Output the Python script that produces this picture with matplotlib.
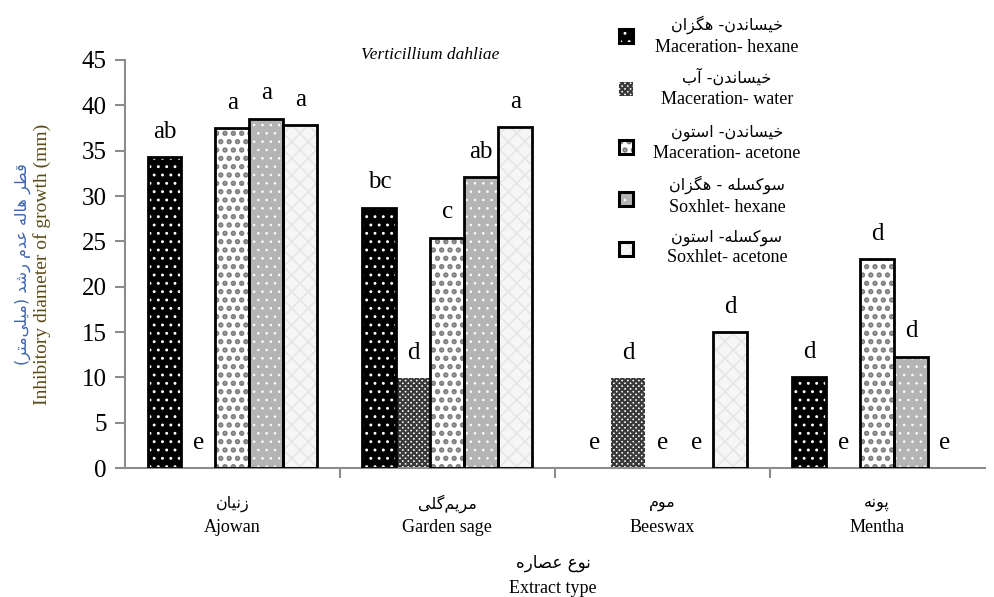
import numpy as np
import matplotlib
matplotlib.use('Agg')
import matplotlib.pyplot as plt
from matplotlib.patches import Rectangle

# ---- data ----
cat_fa = ['زنیان', 'مریم‌گلی', 'موم', 'پونه']
cat_en = ['Ajowan', 'Garden sage', 'Beeswax', 'Mentha']

series_fa = ['خیساندن- هگزان', 'خیساندن- آب', 'خیساندن- استون',
             'سوکسله - هگزان', 'سوکسله- استون']
series_en = ['Maceration- hexane', 'Maceration- water', 'Maceration- acetone',
             'Soxhlet- hexane', 'Soxhlet- acetone']

mac_hexane = [34.3, 28.7, 0, 10.0]
mac_water = [0, 9.9, 9.9, 0]
mac_acetone = [37.5, 25.4, 0, 23.0]
sox_hexane = [38.5, 32.1, 0, 12.3]
sox_acetone = [37.8, 37.6, 15.0, 0]

letters = [
    ['ab', 'bc', 'e', 'd'],
    ['e', 'd', 'd', 'e'],
    ['a', 'c', 'e', 'd'],
    ['a', 'ab', 'e', 'd'],
    ['a', 'a', 'd', 'e'],
]

title = 'Verticillium dahliae'
ylabel_fa = 'قطر هاله عدم رشد (میلی‌متر)'
ylabel_en = 'Inhibitory diameter of growth (mm)'
xlabel_fa = 'نوع عصاره'
xlabel_en = 'Extract type'
yticks = [0, 5, 10, 15, 20, 25, 30, 35, 40, 45]

# ---- tiny Persian shaper (matplotlib has no bidi / joining) ----
AR_FORMS = {
    '\u0627': ('\uFE8D', '\uFE8E', None, None),        # alef
    '\u0622': ('\uFE81', '\uFE82', None, None),        # alef madda
    '\u0628': ('\uFE8F', '\uFE90', '\uFE91', '\uFE92'),  # beh
    '\u067E': ('\uFB56', '\uFB57', '\uFB58', '\uFB59'),  # peh
    '\u062A': ('\uFE95', '\uFE96', '\uFE97', '\uFE98'),  # teh
    '\u062E': ('\uFEA5', '\uFEA6', '\uFEA7', '\uFEA8'),  # khah
    '\u062F': ('\uFEA9', '\uFEAA', None, None),        # dal
    '\u0631': ('\uFEAD', '\uFEAE', None, None),        # reh
    '\u0632': ('\uFEAF', '\uFEB0', None, None),        # zain
    '\u0633': ('\uFEB1', '\uFEB2', '\uFEB3', '\uFEB4'),  # seen
    '\u0634': ('\uFEB5', '\uFEB6', '\uFEB7', '\uFEB8'),  # sheen
    '\u0635': ('\uFEB9', '\uFEBA', '\uFEBB', '\uFEBC'),  # sad
    '\u0637': ('\uFEC1', '\uFEC2', '\uFEC3', '\uFEC4'),  # tah
    '\u0639': ('\uFEC9', '\uFECA', '\uFECB', '\uFECC'),  # ain
    '\u0642': ('\uFED5', '\uFED6', '\uFED7', '\uFED8'),  # qaf
    '\u06A9': ('\uFB8E', '\uFB8F', '\uFB90', '\uFB91'),  # keheh
    '\u06AF': ('\uFB92', '\uFB93', '\uFB94', '\uFB95'),  # gaf
    '\u0644': ('\uFEDD', '\uFEDE', '\uFEDF', '\uFEE0'),  # lam
    '\u0645': ('\uFEE1', '\uFEE2', '\uFEE3', '\uFEE4'),  # meem
    '\u0646': ('\uFEE5', '\uFEE6', '\uFEE7', '\uFEE8'),  # noon
    '\u0648': ('\uFEED', '\uFEEE', None, None),        # waw
    '\u0647': ('\uFEE9', '\uFEEA', '\uFEEB', '\uFEEC'),  # heh
    '\u06CC': ('\uFBFC', '\uFBFD', '\uFBFE', '\uFBFF'),  # farsi yeh
}


def fa(s):
    s = s.replace('\u064A', '\u06CC').replace('\u0649', '\u06CC').replace('\u0643', '\u06A9')
    out = []
    for i, ch in enumerate(s):
        if ch not in AR_FORMS:
            if ch != '\u200c':
                out.append(ch)
            continue
        iso, fin, ini, med = AR_FORMS[ch]
        prev = s[i - 1] if i > 0 else ''
        nxt = s[i + 1] if i + 1 < len(s) else ''
        jp = prev in AR_FORMS and AR_FORMS[prev][2] is not None
        jn = ini is not None and nxt in AR_FORMS
        if jp and jn:
            out.append(med)
        elif jp:
            out.append(fin)
        elif jn:
            out.append(ini)
        else:
            out.append(iso)
    vis = ''.join(reversed(out))
    return vis.translate(str.maketrans('()', ')('))


SERIF = ['Liberation Serif', 'DejaVu Sans']
FAF = ['DejaVu Sans']

plt.rcParams['font.family'] = SERIF

face = ['black', 'white', 'white', '#b4b4b4', '#f6f6f6']
hatches = ['..', 'xxxxxx', '..', '..', 'xx']
hatch_col = ['white', '#3a3a3a', '#7c7c7c', 'white', '#e6e6e6']
hatch_lw = [0.9, 1.6, 2.6, 0.6, 1.2]
outline = ['black', 'none', 'black', 'black', 'black']

values = [mac_hexane, mac_water, mac_acetone, sox_hexane, sox_acetone]

fig = plt.figure(figsize=(9.95, 5.97), dpi=100)
ax = fig.add_axes([0.1256, 0.216, 0.864, 0.6835])

x = np.arange(len(cat_en))
w = 0.158
for j, vals in enumerate(values):
    pos = x + (j - 2) * w
    with plt.rc_context({'hatch.linewidth': hatch_lw[j]}):
        ax.bar(pos, vals, w, color=face[j], edgecolor=hatch_col[j], linewidth=0,
               hatch=hatches[j], zorder=2)
    ecs = [outline[j] if v > 0 else 'none' for v in vals]
    ax.bar(pos, vals, w, fill=False, edgecolor=ecs, linewidth=2, zorder=3)
    for xi, v, lab in zip(pos, vals, letters[j]):
        ax.annotate(lab, (xi, v), xytext=(0, 14), textcoords='offset points',
                    ha='center', va='baseline', fontsize=18)

ax.set_xlim(-0.5, 3.5)
ax.set_ylim(0, 45)
ax.set_yticks(yticks)
ax.set_yticklabels([str(t) for t in yticks], fontsize=18)
ax.set_xticks([0.5, 1.5, 2.5])
ax.set_xticklabels([])
for s in ['top', 'right']:
    ax.spines[s].set_visible(False)
for s in ['left', 'bottom']:
    ax.spines[s].set_color('#8c8c8c')
    ax.spines[s].set_linewidth(1.5)
ax.tick_params(axis='both', colors='#8c8c8c', length=7, width=1.5)
ax.tick_params(axis='y', labelcolor='black', pad=6)

trans = ax.get_xaxis_transform()
for i in range(len(cat_en)):
    ax.text(i, -0.087, fa(cat_fa[i]), transform=trans, ha='center', va='center',
            fontsize=11.5, family=FAF)
    ax.text(i, -0.145, cat_en[i], transform=trans, ha='center', va='center',
            fontsize=13)

ax.text(0.355, 1.012, title, transform=ax.transAxes, ha='center', va='center',
        fontsize=12.5, style='italic')

# y label: two lines in two colours
fig.text(0.023, 0.557, fa(ylabel_fa), rotation=90, ha='center', va='center',
         fontsize=11.5, family=FAF, color='#3f64a8')
fig.text(0.042, 0.557, ylabel_en, rotation=90, ha='center', va='center',
         fontsize=14, color='#5a4a18')

# x label
fig.text(0.556, 0.057, fa(xlabel_fa), ha='center', va='center', fontsize=12, family=FAF)
fig.text(0.556, 0.015, xlabel_en, ha='center', va='center', fontsize=13)

# legend drawn by hand
W, H = 995.0, 597.0
fa_y = [25, 77, 133, 185, 238]
en_y = [48, 100, 153, 207, 258]
mk_y = [36, 89, 147, 199, 249]
for j in range(5):
    with plt.rc_context({'hatch.linewidth': hatch_lw[j]}):
        r = Rectangle((619 / W, 1 - (mk_y[j] + 7) / H), 14 / W, 14 / H,
                      transform=fig.transFigure, facecolor=face[j],
                      edgecolor=hatch_col[j], linewidth=0, hatch=hatches[j])
    fig.add_artist(r)
    r2 = Rectangle((619 / W, 1 - (mk_y[j] + 7) / H), 14 / W, 14 / H,
                   transform=fig.transFigure, fill=False,
                   edgecolor='black' if j != 1 else 'none', linewidth=2.2)
    fig.add_artist(r2)
    fig.text(727 / W, 1 - fa_y[j] / H, fa(series_fa[j]), ha='center', va='center',
             fontsize=11.5, family=FAF)
    fig.text(727 / W, 1 - en_y[j] / H, series_en[j], ha='center', va='center',
             fontsize=13)

fig.savefig('out.png', dpi=100)
